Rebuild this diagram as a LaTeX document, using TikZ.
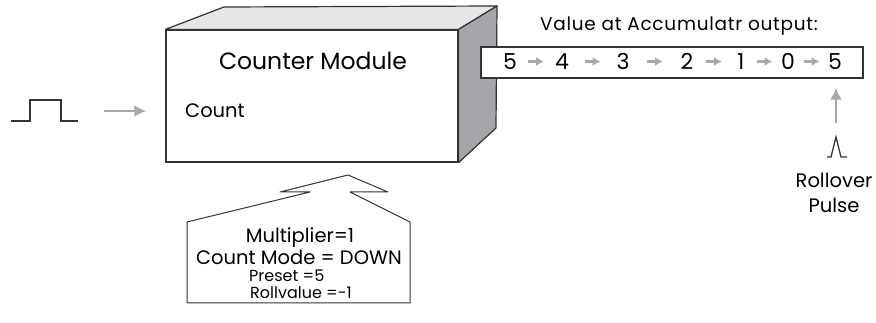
\documentclass[tikz,border=0pt]{standalone}
\usepackage{fontspec}
\setmainfont{Poppins}
\definecolor{boxline}{HTML}{333333}
\definecolor{arrowgray}{HTML}{A7A9AC}
\definecolor{topgray}{HTML}{E6E7E8}
\definecolor{sidegray}{HTML}{A4A6A9}
\usetikzlibrary{arrows.meta,positioning}
\tikzset{
    moduleface/.style={
        draw=boxline,
        fill=white,
        line width=1.2pt,
        minimum width=292pt,
        minimum height=132pt,
        inner sep=0pt
    },
    moduleside/.style={
        draw=boxline,
        line width=1.2pt,
        line join=round
    },
    accbar/.style={
        draw=boxline,
        fill=white,
        line width=1.2pt,
        minimum width=382pt,
        minimum height=31pt,
        inner sep=0pt
    },
    valdigit/.style={
        inner sep=0pt,
        font=\fontsize{22}{24}\selectfont
    },
    valarrow/.style={
        -{Latex[length=8pt,width=9pt]},
        draw=arrowgray,
        line width=2.2pt
    },
    feedarrow/.style={
        -{Latex[length=12pt,width=12pt]},
        draw=arrowgray,
        line width=2.7pt
    },
    titletext/.style={
        inner sep=0pt,
        font=\fontsize{23.5}{26}\selectfont
    },
    labeltext/.style={
        inner sep=0pt,
        font=\fontsize{19.5}{22}\selectfont
    },
    smalltext/.style={
        inner sep=0pt,
        font=\fontsize{16}{18}\selectfont
    },
    signal/.style={
        draw=boxline,
        line width=1.6pt
    }
}

\begin{document}
\begin{tikzpicture}[x=1pt,y=-1pt]
        \useasboundingbox (0,0) rectangle (876,323);

        % counter module block
        \node[moduleface] (module) at (312,96) {};
        \filldraw[moduleside,fill=topgray] (module.north west) -- (224,7)
            -- (497,6) -- (module.north east) -- cycle;
        \filldraw[moduleside,fill=sidegray] (module.north east) -- (497,6)
            -- (496,128) -- (module.south east) -- cycle;
        \node[titletext] (moduletitle) at (313,61) {Counter Module};
        \node[labeltext,anchor=west] (countlabel) at (185,111) {Count};

        % input pulse
        \draw[signal] (11,121) -- (30,121) -- (30,100) -- (61,100)
            -- (61,121) -- (78,121);
        \coordinate (inpulse) at (78,111);
        \draw[feedarrow,shorten <=26pt,shorten >=19pt] (inpulse)
            -- (inpulse -| module.west);

        % settings block
        \filldraw[draw=boxline,fill=white,line width=1pt,line join=round]
            (187,303) -- (187,222) -- (310,192) -- (280,192) -- (348,175)
            -- (388,192) -- (350,192) -- (410,222) -- (410,303) -- cycle;
        \node[labeltext] (cfgmult) at (300,238) {Multiplier=1};
        \node[labeltext] (cfgmode) at (299,257) {Count Mode = DOWN};
        \node[smalltext,anchor=west] (cfgpreset) at (249,276) {Preset =5};
        \node[smalltext,anchor=west] (cfgroll) at (250,293) {Rollvalue =-1};

        % accumulator values
        \node[accbar] (acc) at (672,62.5) {};
        \node[smalltext,font=\fontsize{18.5}{20}\selectfont\addfontfeature{LetterSpace=4}]
            (acctitle) at (679,26) {Value at Accumulatr output:};
        \foreach \name/\x/\v in {d1/510/5,d2/562/4,d3/623/3,d4/687/2,
            d5/741/1,d6/788/0,d7/835/5}
            \node[valdigit] (\name) at (\x,61.5) {\v};
        \foreach \a/\b/\s in {d1/d2/18,d2/d3/22.5,d3/d4/24,d4/d5/19,
            d5/d6/15.5,d6/d7/15.5}
            \draw[valarrow,shorten <=\s pt,shorten >=\s pt]
                (\a.center) -- (\b.center);

        % rollover pulse
        \draw[signal,line width=1.3pt] (827,157) -- (831,157) -- (836,137)
            -- (841,157) -- (847,157);
        \coordinate (spike) at (836,137);
        \draw[feedarrow,shorten <=14pt,shorten >=9pt] (spike)
            -- (spike |- acc.south);
        \node[labeltext] (rolltext) at (834,180) {Rollover};
        \node[labeltext] (pulsetext) at (834,205) {Pulse};
    \end{tikzpicture}
\end{document}
